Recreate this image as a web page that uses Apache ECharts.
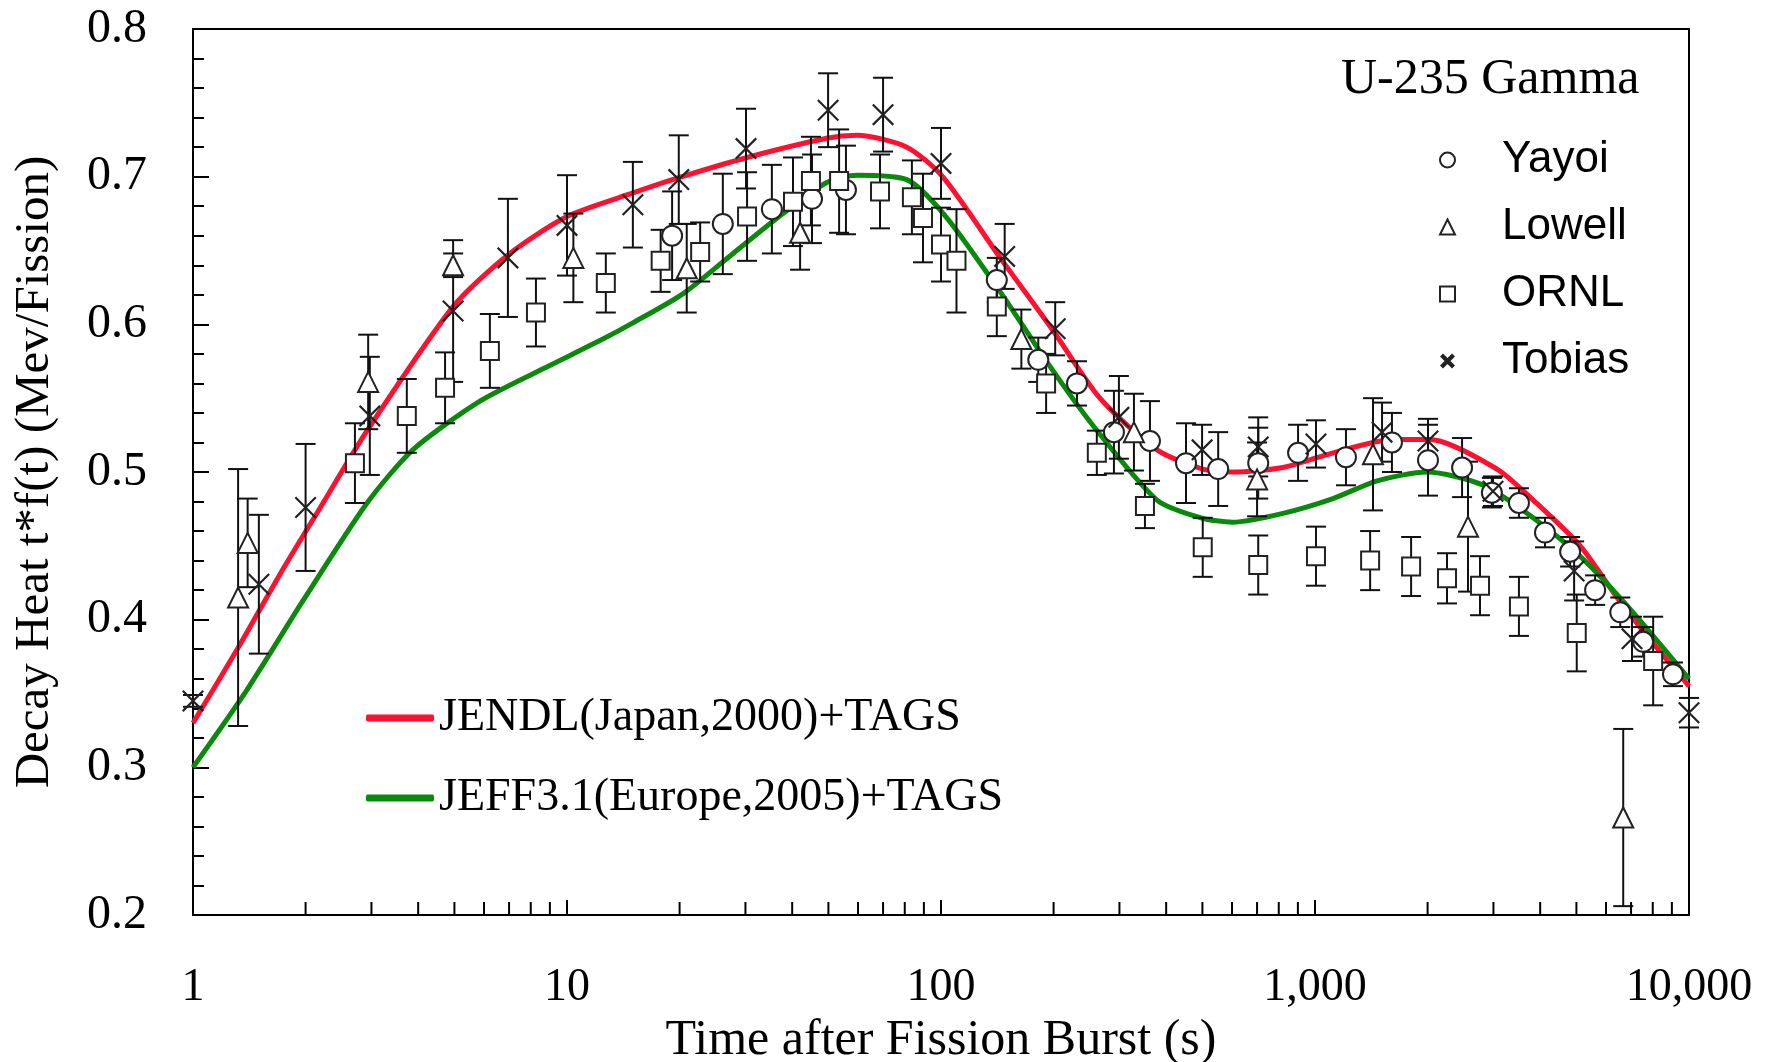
<!DOCTYPE html>
<html>
<head>
<meta charset="utf-8">
<title>U-235 Gamma decay heat</title>
<script src="https://cdn.jsdelivr.net/npm/echarts@6/dist/echarts.min.js"></script>
<style>
  html, body { margin: 0; padding: 0; background: #fff; }
  #chart { width: 1769px; height: 1062px; }
</style>
</head>
<body>
<div id="chart"></div>
<script>
// calculated curves: [time after burst (s), t*f(t) MeV/fission]
var jendlCurve = [
  [1, 0.330], [1.32, 0.381], [1.71, 0.431], [2.19, 0.476], [2.92, 0.528],
  [4.96, 0.612], [6.95, 0.647], [10, 0.673], [15, 0.689], [19.7, 0.699],
  [30.3, 0.713], [49.5, 0.726], [59.6, 0.728], [81, 0.720], [101, 0.700],
  [144, 0.645], [199, 0.596], [266, 0.550], [378, 0.515], [501, 0.502],
  [602, 0.500], [821, 0.503], [1117, 0.513], [1617, 0.522], [2028, 0.522],
  [3066, 0.502], [3830, 0.481], [5117, 0.450], [6550, 0.412], [8020, 0.384],
  [10000, 0.355]
];
var jeffCurve = [
  [1, 0.300], [1.39, 0.352], [1.97, 0.413], [2.92, 0.479], [3.87, 0.515],
  [5.85, 0.548], [8.8, 0.571], [12.25, 0.589], [15, 0.601], [20.5, 0.621],
  [27.8, 0.648], [37.8, 0.675], [49.5, 0.696], [59.6, 0.701], [81, 0.698],
  [103, 0.673], [144, 0.622], [195, 0.572], [254, 0.532], [378, 0.481],
  [495, 0.469], [602, 0.466], [821, 0.472], [1117, 0.482], [1466, 0.494],
  [1990, 0.500], [2820, 0.491], [3830, 0.469], [5210, 0.441], [7080, 0.405],
  [10000, 0.360]
];

// measurements: [time (s), value, error]
var yayoi = [
  [19.1, 0.660, 0.030], [26.1, 0.668, 0.034], [35.3, 0.678, 0.030], [45.2, 0.685, 0.030],
  [55.7, 0.691, 0.030], [141, 0.630, 0.015], [182, 0.576, 0.015], [231, 0.560, 0.015],
  [290, 0.527, 0.028], [362, 0.521, 0.027], [452, 0.506, 0.027], [551, 0.502, 0.025],
  [705, 0.506, 0.024], [901, 0.513, 0.019], [1210, 0.510, 0.019], [1606, 0.520, 0.020],
  [2005, 0.508, 0.024], [2473, 0.503, 0.020], [2971, 0.486, 0.010], [3510, 0.479, 0.010],
  [4120, 0.459, 0.010], [4810, 0.446, 0.010], [5610, 0.420, 0.010], [6550, 0.405, 0.010],
  [7540, 0.385, 0.010], [9060, 0.363, 0.008]
];
var lowell = [
  [1.32, 0.415, 0.087], [1.40, 0.452, 0.030], [2.94, 0.561, 0.032], [4.96, 0.640, 0.008],
  [10.4, 0.645, 0.030], [20.9, 0.638, 0.030], [42, 0.662, 0.025], [164, 0.590, 0.020],
  [328, 0.527, 0.026], [700, 0.495, 0.025], [1429, 0.512, 0.038], [2565, 0.463, 0.044],
  [6670, 0.266, 0.060]
];
var ornl = [
  [2.71, 0.506, 0.027], [3.73, 0.538, 0.025], [4.72, 0.557, 0.024], [6.22, 0.582, 0.025],
  [8.26, 0.608, 0.023], [12.7, 0.628, 0.020], [17.8, 0.643, 0.021], [22.7, 0.649, 0.020],
  [30.3, 0.673, 0.030], [40.2, 0.683, 0.030], [44.9, 0.697, 0.030], [53.4, 0.697, 0.035],
  [68.7, 0.690, 0.025], [83.6, 0.686, 0.025], [89.5, 0.672, 0.030], [100, 0.654, 0.025],
  [110, 0.643, 0.035], [141, 0.612, 0.020], [191, 0.560, 0.020], [261, 0.513, 0.015],
  [351, 0.477, 0.015], [501, 0.449, 0.020], [705, 0.437, 0.020], [1006, 0.443, 0.020],
  [1404, 0.440, 0.020], [1807, 0.436, 0.020], [2254, 0.428, 0.017], [2762, 0.423, 0.020],
  [3510, 0.409, 0.020], [5010, 0.391, 0.026], [8020, 0.372, 0.030]
];
var tobias = [
  [1, 0.345, 0.004], [1.50, 0.424, 0.047], [2.0, 0.476, 0.043], [2.97, 0.538, 0.040],
  [4.96, 0.609, 0.048], [6.95, 0.645, 0.040], [10, 0.667, 0.034], [15, 0.681, 0.029],
  [19.9, 0.698, 0.030], [30.1, 0.719, 0.027], [49.9, 0.745, 0.025], [70, 0.742, 0.025],
  [100, 0.709, 0.024], [148, 0.646, 0.022], [202, 0.597, 0.018], [299, 0.537, 0.028],
  [499, 0.515, 0.017], [705, 0.517, 0.020], [1006, 0.519, 0.016], [1511, 0.527, 0.020],
  [2005, 0.521, 0.015], [2992, 0.487, 0.010], [4930, 0.433, 0.020], [7040, 0.387, 0.015],
  [10000, 0.337, 0.010]
];

// axis ticks and labels
var xMinorTicks = [2, 3, 4, 5, 6, 7, 8, 9, 20, 30, 40, 50, 60, 70, 80, 90,
  200, 300, 400, 500, 600, 700, 800, 900, 2000, 3000, 4000, 5000, 6000, 7000, 8000, 9000];
var xMajorTicks = [10, 100, 1000];
var xLabelValues = [1, 10, 100, 1000, 10000];
var xLabelText = ['1', '10', '100', '1,000', '10,000'];
var yLabelText = ['0.2', '0.3', '0.4', '0.5', '0.6', '0.7', '0.8'];

var serif = '"Liberation Serif", "Times New Roman", serif';
var sans = '"Liberation Sans", Arial, sans-serif';
var thinX = 'path://M0,7L7,0L100,93L93,100Z M93,0L100,7L7,100L0,93Z';
var boldX = 'path://M0,20L20,0L100,80L80,100Z M80,0L100,20L20,100L0,80Z';

function errorBars(data, name) {
  return {
    type: 'custom',
    name: name + ' error',
    z: 3,
    silent: true,
    data: data,
    encode: { x: 0, y: 1 },
    renderItem: function (params, api) {
      var t = api.value(0), v = api.value(1), e = api.value(2);
      var hi = api.coord([t, v + e]);
      var lo = api.coord([t, v - e]);
      var w = 10;
      var st = { stroke: '#111', lineWidth: 2 };
      return {
        type: 'group',
        children: [
          { type: 'line', shape: { x1: hi[0], y1: hi[1], x2: lo[0], y2: lo[1] }, style: st },
          { type: 'line', shape: { x1: hi[0] - w, y1: hi[1], x2: hi[0] + w, y2: hi[1] }, style: st },
          { type: 'line', shape: { x1: lo[0] - w, y1: lo[1], x2: lo[0] + w, y2: lo[1] }, style: st }
        ]
      };
    }
  };
}

// log-axis ticks at 2..9 x 10^n, drawn inward from the bottom axis
function tickSeries(values, len) {
  return {
    type: 'custom',
    name: 'ticks',
    z: 5,
    silent: true,
    data: values.map(function (v) { return [v, 0.2]; }),
    encode: { x: 0, y: 1 },
    renderItem: function (params, api) {
      var p = api.coord([api.value(0), api.value(1)]);
      return {
        type: 'line',
        shape: { x1: p[0], y1: p[1], x2: p[0], y2: p[1] - len },
        style: { stroke: '#000', lineWidth: 2 }
      };
    }
  };
}

function markers(data, name, symbol, size) {
  var hollow = symbol !== thinX;
  return {
    type: 'scatter',
    name: name,
    z: 4,
    symbol: symbol,
    symbolSize: size,
    data: data,
    encode: { x: 0, y: 1 },
    itemStyle: hollow
      ? { color: '#fff', borderColor: '#222', borderWidth: 2, opacity: 1 }
      : { color: '#222', opacity: 1 }
  };
}

var myChart = echarts.init(document.getElementById('chart'));
var option = {
  animation: false,
  backgroundColor: '#fff',
  title: {
    text: 'U-235 Gamma',
    left: 1336,
    top: 50,
    textStyle: { fontFamily: serif, fontSize: 50, fontWeight: 'normal', color: '#000' }
  },
  grid: {
    left: 193, right: 80, top: 29, bottom: 147,
    outerBoundsMode: 'none',
    containLabel: false,
    show: true, borderColor: '#000', borderWidth: 2
  },
  legend: [
    {
      orient: 'vertical',
      left: 1434,
      top: 130,
      itemWidth: 15,
      itemHeight: 15,
      itemGap: 17,
      textStyle: { fontFamily: sans, fontSize: 44, color: '#000', lineHeight: 50, padding: [0, 0, 0, 42] },
      data: [
        { name: 'Yayoi', icon: 'circle' },
        { name: 'Lowell', icon: 'triangle' },
        { name: 'ORNL', icon: 'rect' },
        { name: 'Tobias', icon: boldX }
      ]
    },
    {
      orient: 'vertical',
      left: 361,
      top: 688,
      itemWidth: 68,
      itemHeight: 7,
      itemGap: 30,
      textStyle: { fontFamily: serif, fontSize: 46, color: '#000', lineHeight: 50 },
      data: [
        { name: 'JENDL(Japan,2000)+TAGS', icon: 'roundRect' },
        { name: 'JEFF3.1(Europe,2005)+TAGS', icon: 'roundRect' }
      ]
    }
  ],
  xAxis: {
    type: 'log',
    logBase: 10,
    min: 1,
    max: 10000,
    name: 'Time after Fission Burst (s)',
    nameLocation: 'middle',
    nameGap: 86,
    nameTextStyle: { fontFamily: serif, fontSize: 50, color: '#000' },
    axisLine: { lineStyle: { color: '#000', width: 2 } },
    axisTick: { show: false },
    axisLabel: {
      customValues: xLabelValues,
      margin: 50,
      fontFamily: serif,
      fontSize: 46,
      color: '#000',
      formatter: function (v) { return xLabelText[Math.round(Math.log10(v))]; }
    },
    splitLine: { show: false },
    minorTick: { show: false }
  },
  yAxis: {
    type: 'value',
    min: 0.2,
    max: 0.8,
    interval: 0.1,
    name: 'Decay Heat t*f(t) (Mev/Fission)',
    nameLocation: 'middle',
    nameRotate: 90,
    nameGap: 133,
    nameTextStyle: { fontFamily: serif, fontSize: 49, color: '#000' },
    axisLine: { show: true, lineStyle: { color: '#000', width: 2 } },
    axisTick: { show: true, inside: true, length: 16, lineStyle: { color: '#000', width: 2 } },
    minorTick: { show: true, splitNumber: 5, length: 11, lineStyle: { color: '#000', width: 2 } },
    axisLabel: {
      margin: 46,
      fontFamily: serif,
      fontSize: 48,
      color: '#000',
      formatter: function (v) { return yLabelText[Math.round((v - 0.2) * 10)]; }
    },
    splitLine: { show: false }
  },
  series: [
    {
      type: 'line',
      name: 'JENDL(Japan,2000)+TAGS',
      data: jendlCurve,
      smooth: 0.25,
      symbol: 'none',
      z: 2,
      itemStyle: { color: '#ff1030' },
      lineStyle: { color: '#ff1030', width: 5 }
    },
    {
      type: 'line',
      name: 'JEFF3.1(Europe,2005)+TAGS',
      data: jeffCurve,
      smooth: 0.25,
      symbol: 'none',
      z: 2,
      itemStyle: { color: '#0a8a0a' },
      lineStyle: { color: '#0a8a0a', width: 5 }
    },
    errorBars(yayoi, 'Yayoi'),
    errorBars(lowell, 'Lowell'),
    errorBars(ornl, 'ORNL'),
    errorBars(tobias, 'Tobias'),
    markers(yayoi, 'Yayoi', 'circle', 20),
    markers(lowell, 'Lowell', 'triangle', 20),
    markers(ornl, 'ORNL', 'rect', 18),
    markers(tobias, 'Tobias', thinX, 22),
    tickSeries(xMinorTicks, 13),
    tickSeries(xMajorTicks, 15)
  ]
};
myChart.setOption(option);
</script>
</body>
</html>
